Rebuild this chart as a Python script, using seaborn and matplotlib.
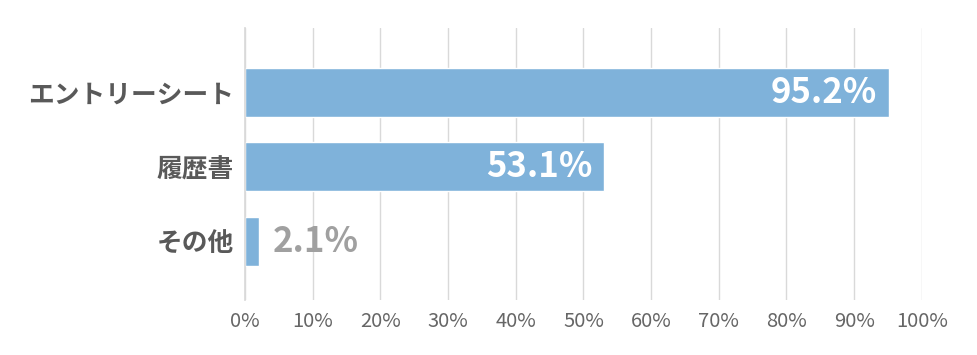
import matplotlib
matplotlib.use("Agg")
import matplotlib.pyplot as plt
import seaborn as sns
import pandas as pd
from matplotlib.ticker import PercentFormatter

categories = ["エントリーシート", "履歴書", "その他"]
values = [95.2, 53.1, 2.1]
x_ticks = list(range(0, 101, 10))

sns.set_theme(style="white")
plt.rcParams["font.family"] = ["Noto Sans CJK JP", "DejaVu Sans"]

bar_color = "#7FB2DA"
df = pd.DataFrame({"category": categories, "value": values})

fig = plt.figure(figsize=(9.78, 3.55), dpi=100)
ax = fig.add_axes([0.2505, 0.155, 0.692, 0.766])

sns.barplot(data=df, y="category", x="value", orient="h", color=bar_color,
            saturation=1, width=0.66, ax=ax)

ax.set_xlim(0, 100)
ax.set_ylim(2.79, -0.86)
ax.set_xticks(x_ticks)
ax.xaxis.set_major_formatter(PercentFormatter(decimals=0))
ax.grid(axis="x", color="#D9D9D9", linewidth=1)
ax.set_axisbelow(True)
for s in ["top", "right", "bottom"]:
    ax.spines[s].set_visible(False)
ax.spines["left"].set_color("#D9D9D9")
ax.set_xlabel("")
ax.set_ylabel("")
ax.tick_params(axis="x", labelsize=14.5, colors="#666666", length=0, pad=8)
ax.tick_params(axis="y", labelsize=18.5, length=0, pad=8)
for lbl in ax.get_yticklabels():
    lbl.set_fontweight("bold")
    lbl.set_color("#595959")

for i, v in enumerate(values):
    txt = f"{v:.1f}%"
    if v > 10:
        ax.text(v - 1.8, i, txt, ha="right", va="center", color="white",
                fontsize=25, fontweight="bold")
    else:
        ax.text(v + 2, i, txt, ha="left", va="center", color="#A0A0A0",
                fontsize=25, fontweight="bold")

fig.savefig("out.png", dpi=100)
